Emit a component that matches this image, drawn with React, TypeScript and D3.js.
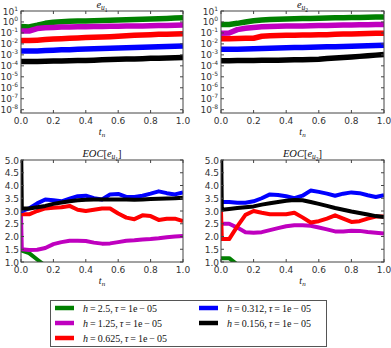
import React from 'react';
import * as d3 from 'd3';

const T_TOP = [0, 0.05, 0.1, 0.15, 0.2, 0.25, 0.3, 0.35, 0.4, 0.45, 0.5, 0.55, 0.6, 0.65, 0.7, 0.75, 0.8, 0.85, 0.9, 0.95, 1.0];
const T_EOC = [0, 0.005, 0.05, 0.1, 0.15, 0.2, 0.25, 0.3, 0.35, 0.4, 0.45, 0.5, 0.55, 0.6, 0.65, 0.7, 0.75, 0.8, 0.85, 0.9, 0.95, 1.0];

const H_LABELS = ['2.5', '1.25', '0.625', '0.312', '0.156'];
const TAU_LABEL = '1e\u2009\u2212\u200905';
const COLORS = ['#008000', '#bf00bf', '#ff0000', '#0000ff', '#000000'];

// e_{u1}
const E1_GREEN = [0.38, 0.35, 0.5, 0.75, 0.95, 1.05, 1.15, 1.2, 1.25, 1.3, 1.35, 1.4, 1.5, 1.6, 1.7, 1.8, 1.9, 2.0, 2.1, 2.25, 2.4];
const E1_PURPLE = [0.15, 0.15, 0.25, 0.3, 0.32, 0.34, 0.35, 0.36, 0.37, 0.38, 0.39, 0.4, 0.41, 0.42, 0.43, 0.44, 0.45, 0.47, 0.48, 0.5, 0.52];
const E1_RED = [0.02, 0.02, 0.022, 0.025, 0.028, 0.03, 0.033, 0.035, 0.038, 0.04, 0.043, 0.046, 0.05, 0.055, 0.06, 0.065, 0.07, 0.074, 0.077, 0.08, 0.083];
const E1_BLUE = [0.0022, 0.0022, 0.0023, 0.0025, 0.0027, 0.0029, 0.003, 0.0032, 0.0034, 0.0036, 0.0038, 0.004, 0.0042, 0.0044, 0.0046, 0.0049, 0.0052, 0.0055, 0.0058, 0.006, 0.0063];
const E1_BLACK = [2.5e-4, 2.5e-4, 2.5e-4, 2.6e-4, 2.7e-4, 2.8e-4, 2.9e-4, 3.0e-4, 3.1e-4, 3.3e-4, 3.5e-4, 3.7e-4, 3.9e-4, 4.1e-4, 4.3e-4, 4.5e-4, 4.8e-4, 5.0e-4, 5.2e-4, 5.5e-4, 5.7e-4];

// e_{u2}
const E2_GREEN = [0.6, 0.6, 0.75, 1.0, 1.3, 1.5, 1.65, 1.75, 1.85, 1.95, 2.05, 2.1, 2.2, 2.3, 2.4, 2.45, 2.5, 2.6, 2.7, 2.8, 2.9];
const E2_PURPLE = [0.095, 0.1, 0.2, 0.27, 0.32, 0.36, 0.38, 0.4, 0.42, 0.43, 0.44, 0.45, 0.47, 0.48, 0.5, 0.52, 0.54, 0.55, 0.57, 0.58, 0.6];
const E2_RED = [0.03, 0.03, 0.031, 0.032, 0.033, 0.05, 0.055, 0.058, 0.06, 0.062, 0.064, 0.066, 0.068, 0.07, 0.074, 0.078, 0.082, 0.085, 0.088, 0.092, 0.095];
const E2_BLUE = [0.0032, 0.0032, 0.0033, 0.0035, 0.0037, 0.0039, 0.004, 0.0042, 0.0044, 0.0046, 0.0048, 0.005, 0.0052, 0.0054, 0.0056, 0.0059, 0.0062, 0.0065, 0.0068, 0.0072, 0.0076];
const E2_BLACK = [2.9e-4, 2.9e-4, 3.0e-4, 3.0e-4, 3.1e-4, 3.2e-4, 3.3e-4, 3.3e-4, 3.4e-4, 3.5e-4, 3.5e-4, 3.7e-4, 4.0e-4, 4.6e-4, 5.2e-4, 5.8e-4, 6.5e-4, 7.3e-4, 8.2e-4, 9.5e-4, 1.1e-3];

// EOC[e_{u1}]
const EOC1_GREEN = [1.5, 1.45, 1.35, 1.1, 0.85, 0.7, 0.6, 0.55, 0.5, 0.5, 0.5, 0.5, 0.5, 0.5, 0.5, 0.5, 0.5, 0.5, 0.5, 0.5, 0.5, 0.5];
const EOC1_PURPLE = [2.85, 1.5, 1.47, 1.48, 1.55, 1.7, 1.78, 1.83, 1.83, 1.82, 1.76, 1.72, 1.73, 1.78, 1.83, 1.85, 1.88, 1.9, 1.93, 1.97, 2.0, 2.02];
const EOC1_RED = [2.87, 2.87, 2.87, 3.0, 3.1, 3.13, 3.15, 3.2, 3.05, 3.0, 3.05, 3.1, 3.1, 2.9, 2.74, 2.68, 2.83, 2.8, 2.65, 2.7, 2.7, 2.6];
const EOC1_BLUE = [3.0, 3.0, 3.1, 3.3, 3.45, 3.42, 3.38, 3.48, 3.58, 3.6, 3.5, 3.45, 3.65, 3.67, 3.55, 3.55, 3.6, 3.68, 3.77, 3.7, 3.65, 3.73];
const EOC1_BLACK = [6.0, 3.1, 3.1, 3.15, 3.2, 3.28, 3.33, 3.38, 3.42, 3.44, 3.45, 3.45, 3.45, 3.45, 3.45, 3.44, 3.45, 3.47, 3.48, 3.49, 3.5, 3.52];

// EOC[e_{u2}]
const EOC2_GREEN = [1.15, 1.15, 1.15, 0.9, 0.7, 0.6, 0.6, 0.6, 0.6, 0.6, 0.6, 0.6, 0.6, 0.6, 0.6, 0.6, 0.6, 0.6, 0.6, 0.6, 0.6, 0.6];
const EOC2_PURPLE = [2.5, 2.5, 2.5, 2.35, 2.17, 2.15, 2.17, 2.25, 2.33, 2.4, 2.44, 2.44, 2.42, 2.35, 2.28, 2.2, 2.2, 2.23, 2.22, 2.18, 2.15, 2.12];
const EOC2_RED = [3.0, 1.9, 1.9, 2.4, 2.85, 3.0, 2.93, 2.87, 2.87, 2.87, 2.93, 2.75, 2.55, 2.6, 2.7, 2.83, 2.7, 2.57, 2.6, 2.7, 2.78, 2.78];
const EOC2_BLUE = [3.35, 3.35, 3.35, 3.32, 3.32, 3.38, 3.5, 3.65, 3.63, 3.58, 3.5, 3.6, 3.8, 3.75, 3.68, 3.6, 3.68, 3.73, 3.7, 3.62, 3.55, 3.62];
const EOC2_BLACK = [6.0, 3.05, 3.08, 3.12, 3.15, 3.18, 3.25, 3.3, 3.35, 3.4, 3.43, 3.42, 3.35, 3.28, 3.2, 3.12, 3.05, 2.98, 2.92, 2.86, 2.8, 2.76];

const X_TICKS = [0, 0.2, 0.4, 0.6, 0.8, 1.0];
const LOG_TICKS = [1, 0, -1, -2, -3, -4, -5, -6, -7, -8];
const EOC_TICKS = [1.0, 1.5, 2.0, 2.5, 3.0, 3.5, 4.0, 4.5, 5.0];

const SANS = 'DejaVu Sans, sans-serif';
const SERIF = 'Liberation Serif, DejaVu Serif, serif';
const TICK_COLOR = '#333';

type PanelProps = {
  id: string;
  x0: number; x1: number; y0: number; y1: number;
  log: boolean;
  t: number[];
  series: number[][];
  sub: string;
  eoc: boolean;
  lw: number;
};

function Title({ x, y, sub, eoc }: { x: number; y: number; sub: string; eoc: boolean }) {
  return (
    <text x={x} y={y} textAnchor="middle" fontFamily={SERIF} fontStyle="italic" fontSize={10.5} fill="#111">
      {eoc ? <tspan>EOC</tspan> : null}
      {eoc ? <tspan fontStyle="normal">[</tspan> : null}
      <tspan>e</tspan>
      <tspan fontSize={7.5} dy={2}>u</tspan>
      <tspan fontSize={5.5} fontStyle="normal" dy={1.5}>{sub}</tspan>
      {eoc ? <tspan fontStyle="normal" fontSize={10.5} dy={-3.5}>]</tspan> : null}
    </text>
  );
}

function Panel(p: PanelProps) {
  const x = d3.scaleLinear().domain([0, 1]).range([p.x0, p.x1]);
  const y = p.log
    ? d3.scaleLog().domain([Math.pow(10, -8.3), 10]).range([p.y1, p.y0])
    : d3.scaleLinear().domain([1, 5]).range([p.y1, p.y0]);
  const line = d3.line<number>()
    .x((_, i) => x(p.t[i]))
    .y((v) => y(v));
  const yTickVals = p.log ? LOG_TICKS.map((e) => Math.pow(10, e)) : EOC_TICKS;
  const cx = (p.x0 + p.x1) / 2;
  return (
    <g>
      <defs>
        <clipPath id={p.id}>
          <rect x={p.x0} y={p.y0} width={p.x1 - p.x0} height={p.y1 - p.y0} />
        </clipPath>
      </defs>
      <g clipPath={`url(#${p.id})`}>
        {p.series.map((s, i) => (
          <path key={i} d={line(s) || ''} fill="none" stroke={COLORS[i]} strokeWidth={p.lw} strokeLinejoin="round" />
        ))}
      </g>
      <rect x={p.x0} y={p.y0} width={p.x1 - p.x0} height={p.y1 - p.y0} fill="none" stroke="#444" strokeWidth={1} />
      {X_TICKS.map((v) => (
        <g key={'x' + v}>
          <line x1={x(v)} x2={x(v)} y1={p.y1} y2={p.y1 - 3} stroke="#444" />
          <line x1={x(v)} x2={x(v)} y1={p.y0} y2={p.y0 + 3} stroke="#444" />
          <text x={x(v)} y={p.y1 + 11} textAnchor="middle" fontFamily={SANS} fontSize={9} fill={TICK_COLOR}>{v.toFixed(1)}</text>
        </g>
      ))}
      {yTickVals.map((v, i) => (
        <g key={'y' + i}>
          <line x1={p.x0} x2={p.x0 + 3} y1={y(v)} y2={y(v)} stroke="#444" />
          <line x1={p.x1} x2={p.x1 - 3} y1={y(v)} y2={y(v)} stroke="#444" />
          {p.log ? (
            <text x={p.x0 - 3} y={y(v) + 3.5} textAnchor="end" fontFamily={SANS} fontSize={9} fill={TICK_COLOR}>
              10<tspan fontSize={6} dy={-4}>{LOG_TICKS[i] < 0 ? '-' + Math.abs(LOG_TICKS[i]) : String(LOG_TICKS[i])}</tspan>
            </text>
          ) : (
            <text x={p.x0 - 2} y={y(v) + 3.5} textAnchor="end" fontFamily={SANS} fontSize={9} fill={TICK_COLOR}>{v.toFixed(1)}</text>
          )}
        </g>
      ))}
      <Title x={cx} y={p.y0 - 3} sub={p.sub} eoc={p.eoc} />
      <text x={cx} y={p.y1 + 22} textAnchor="middle" fontFamily={SERIF} fontStyle="italic" fontSize={10} fill="#111">
        t<tspan fontSize={7} dy={2}>n</tspan>
      </text>
    </g>
  );
}

function LegendLabel({ x, y, h }: { x: number; y: number; h: string }) {
  return (
    <text x={x} y={y + 3.5} fontFamily={SERIF} fontSize={10} fill="#111">
      <tspan fontStyle="italic">h</tspan>
      <tspan>{'\u2009=\u2009' + h + ',\u2009'}</tspan>
      <tspan fontStyle="italic">τ</tspan>
      <tspan>{'\u2009=\u2009' + TAU_LABEL}</tspan>
    </text>
  );
}

export default function App() {
  const legendPos = [
    { col: 0, row: 0 }, { col: 0, row: 1 }, { col: 0, row: 2 },
    { col: 1, row: 0 }, { col: 1, row: 1 },
  ];
  const colX = [55, 199];
  const rowY = [308, 323, 338];
  return (
    <svg width={391} height={348} style={{ position: 'absolute', left: 0, top: 0, background: '#fff' }}>
      <rect x={0} y={0} width={391} height={348} fill="#fff" />
      <Panel id="c1" x0={21} x1={183} y0={11} y1={113} log t={T_TOP}
        series={[E1_GREEN, E1_PURPLE, E1_RED, E1_BLUE, E1_BLACK]} sub="1" eoc={false} lw={5.5} />
      <Panel id="c2" x0={221} x1={384} y0={11} y1={113} log t={T_TOP}
        series={[E2_GREEN, E2_PURPLE, E2_RED, E2_BLUE, E2_BLACK]} sub="2" eoc={false} lw={5.5} />
      <Panel id="c3" x0={21} x1={183} y0={160} y1={262} log={false} t={T_EOC}
        series={[EOC1_GREEN, EOC1_PURPLE, EOC1_RED, EOC1_BLUE, EOC1_BLACK]} sub="1" eoc lw={4} />
      <Panel id="c4" x0={221} x1={384} y0={160} y1={262} log={false} t={T_EOC}
        series={[EOC2_GREEN, EOC2_PURPLE, EOC2_RED, EOC2_BLUE, EOC2_BLACK]} sub="2" eoc lw={4} />
      <rect x={50.5} y={300.5} width={276} height={46} fill="#fff" stroke="#555" strokeWidth={1} />
      {legendPos.map((lp, i) => (
        <g key={i}>
          <line x1={colX[lp.col]} x2={colX[lp.col] + 19} y1={rowY[lp.row]} y2={rowY[lp.row]} stroke={COLORS[i]} strokeWidth={4.5} />
          <LegendLabel x={colX[lp.col] + 28} y={rowY[lp.row]} h={H_LABELS[i]} />
        </g>
      ))}
    </svg>
  );
}
